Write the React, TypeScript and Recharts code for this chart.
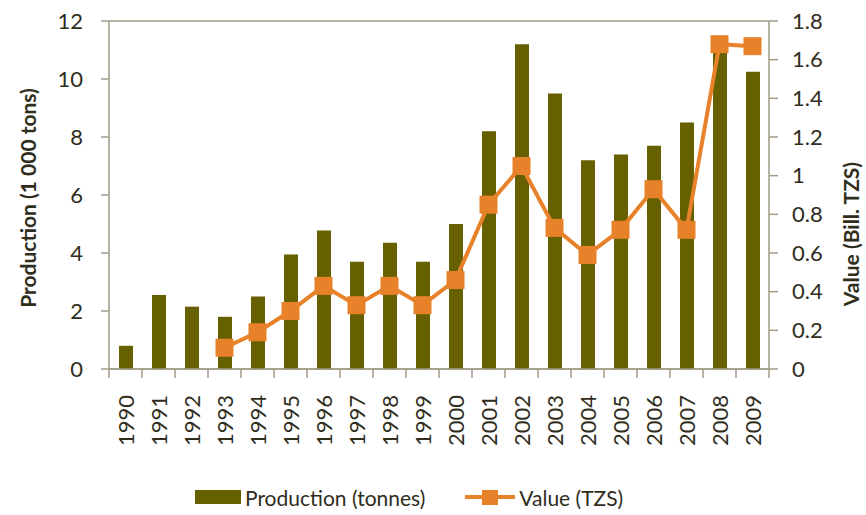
import { Bar, CartesianGrid, ComposedChart, Legend, Line, XAxis, YAxis } from "recharts";

const years = ["1990", "1991", "1992", "1993", "1994", "1995", "1996", "1997", "1998", "1999", "2000", "2001", "2002", "2003", "2004", "2005", "2006", "2007", "2008", "2009"];
const production = [0.8, 2.55, 2.15, 1.8, 2.5, 3.95, 4.78, 3.7, 4.35, 3.7, 5.0, 8.2, 11.2, 9.5, 7.2, 7.4, 7.7, 8.5, 11.0, 10.25];
const value = [null, null, null, 0.11, 0.19, 0.3, 0.43, 0.33, 0.43, 0.33, 0.46, 0.85, 1.05, 0.73, 0.59, 0.72, 0.93, 0.72, 1.68, 1.67];
const leftTicks = [0, 2, 4, 6, 8, 10, 12];
const rightTicks = [0, 0.2, 0.4, 0.6, 0.8, 1, 1.2, 1.4, 1.6, 1.8];

const data = years.map((year, i) => ({ year, production: production[i], value: value[i] }));

const FONT = "Lato, 'Open Sans', sans-serif";
const TEXT = "#2f2d1c";
const AXIS = "#a19c86";
const BAR = "#666000";
const LINE = "#e8822a";
const PLOT_W = 660;

function YearTick(props: any) {
  const { x, y, payload, index } = props;
  const half = PLOT_W / years.length / 2;
  return (
    <g>
      <line x1={x - half} y1={y} x2={x - half} y2={y + 9} stroke={AXIS} strokeWidth={1.5} />
      {index === years.length - 1 && <line x1={x + half} y1={y} x2={x + half} y2={y + 9} stroke={AXIS} strokeWidth={1.5} />}
      <text x={x} y={y + 26} transform={`rotate(-90, ${x}, ${y + 26})`} textAnchor="end" dominantBaseline="central" fill={TEXT} fontSize={22} fontFamily={FONT}>
        {payload.value}
      </text>
    </g>
  );
}

function SquareDot(props: any) {
  const { cx, cy, index } = props;
  if (cy == null || isNaN(cy)) return <g key={index} />;
  return <rect key={index} x={cx - 9} y={cy - 9} width={18} height={18} fill={LINE} />;
}

function LegendContent() {
  return (
    <div style={{ display: "flex", justifyContent: "flex-start", alignItems: "center", height: 24, paddingLeft: 195, fontFamily: FONT, fontSize: 21, color: TEXT }}>
      <svg width={46} height={16} style={{ marginRight: 4 }}>
        <rect x={0} y={1} width={46} height={14} fill={BAR} />
      </svg>
      <span>Production (tonnes)</span>
      <svg width={50} height={18} style={{ marginLeft: 40, marginRight: 4 }}>
        <line x1={0} y1={9} x2={50} y2={9} stroke={LINE} strokeWidth={4} />
        <rect x={17} y={2} width={16} height={15} fill={LINE} />
      </svg>
      <span>Value (TZS)</span>
    </div>
  );
}

export default function App() {
  return (
    <div style={{ position: "absolute", left: 0, top: 0, background: "#fff" }}>
      <ComposedChart width={866} height={515} data={data} margin={{ top: 21, right: 0, left: 0, bottom: 0 }} barSize={14}>
        <CartesianGrid horizontal vertical={false} stroke={AXIS} strokeWidth={1.5} />
        <XAxis dataKey="year" tick={<YearTick />} tickLine={false} tickSize={0} tickMargin={0} axisLine={{ stroke: AXIS, strokeWidth: 1.5 }} interval={0} height={116} />
        <YAxis
          yAxisId="left"
          domain={[0, 12]}
          ticks={leftTicks}
          width={109}
          tickSize={8}
          tickMargin={18}
          axisLine={{ stroke: AXIS, strokeWidth: 1.5 }}
          tickLine={{ stroke: AXIS, strokeWidth: 1.5 }}
          tick={{ fill: TEXT, fontSize: 22, fontFamily: FONT }}
          label={{
            content: () => (
              <text x={27} y={198} transform="rotate(-90, 27, 198)" textAnchor="middle" dominantBaseline="central" fill={TEXT} fontSize={21} fontWeight="bold" fontFamily={FONT}>
                Production (1 000 tons)
              </text>
            ),
          }}
        />
        <YAxis
          yAxisId="right"
          orientation="right"
          domain={[0, 1.8]}
          ticks={rightTicks}
          width={97}
          tickSize={9}
          tickMargin={14}
          axisLine={{ stroke: AXIS, strokeWidth: 1.5 }}
          tickLine={{ stroke: AXIS, strokeWidth: 1.5 }}
          tick={{ fill: TEXT, fontSize: 22, fontFamily: FONT, textAnchor: "start" }}
          label={{
            content: () => (
              <text x={850} y={234} transform="rotate(-90, 850, 234)" textAnchor="middle" dominantBaseline="central" fill={TEXT} fontSize={21} fontWeight="bold" fontFamily={FONT}>
                Value (Bill. TZS)
              </text>
            ),
          }}
        />
        <Bar yAxisId="left" dataKey="production" name="Production (tonnes)" fill={BAR} isAnimationActive={false} />
        <Line yAxisId="right" dataKey="value" name="Value (TZS)" stroke={LINE} strokeWidth={4} dot={<SquareDot />} activeDot={false} isAnimationActive={false} />
        <Legend verticalAlign="bottom" height={30} content={<LegendContent />} />
      </ComposedChart>
    </div>
  );
}
